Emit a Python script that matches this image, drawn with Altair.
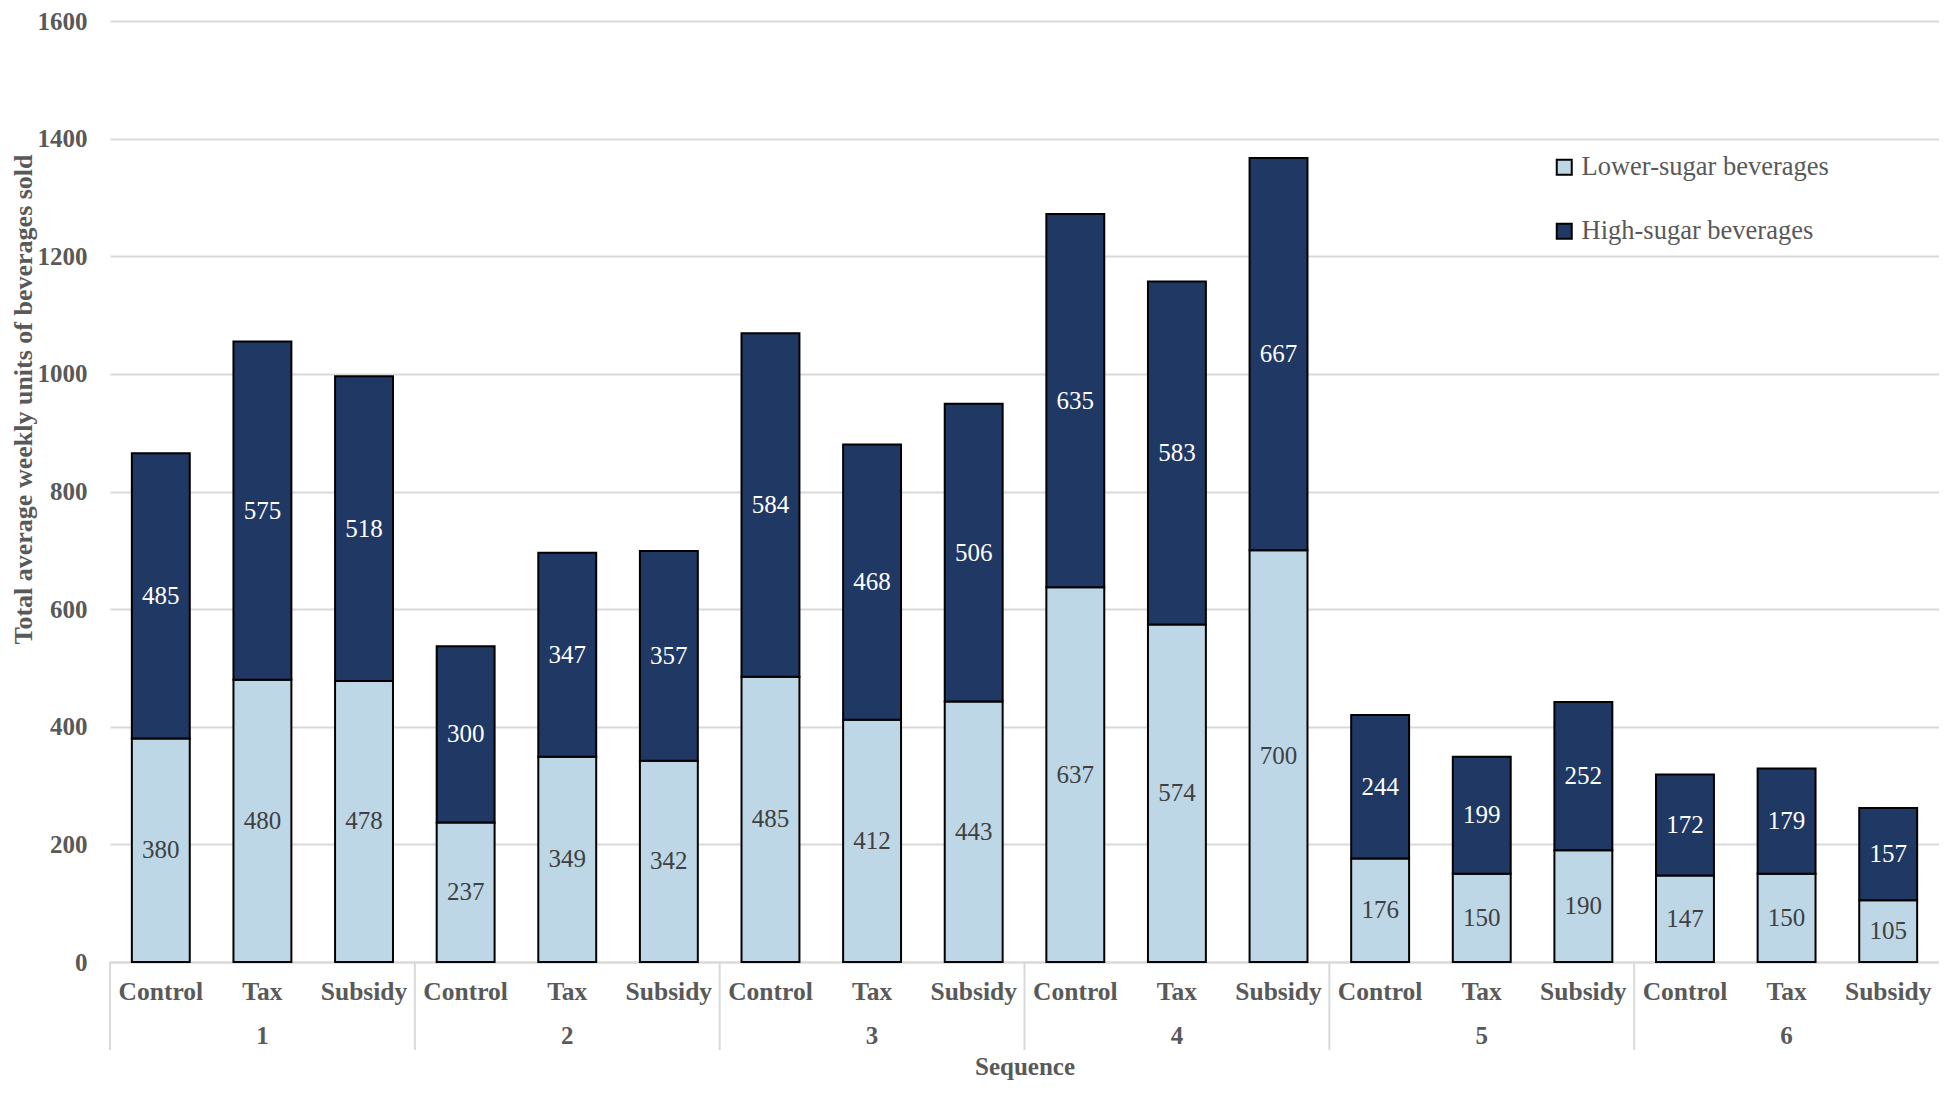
import altair as alt
import pandas as pd

sequences = ["1", "2", "3", "4", "5", "6"]
treatments = ["Control", "Tax", "Subsidy"]
lower_sugar = [380, 480, 478, 237, 349, 342, 485, 412, 443,
               637, 574, 700, 176, 150, 190, 147, 150, 105]
high_sugar = [485, 575, 518, 300, 347, 357, 584, 468, 506,
              635, 583, 667, 244, 199, 252, 172, 179, 157]
series_names = ["Lower-sugar beverages", "High-sugar beverages"]
y_ticks = [0, 200, 400, 600, 800, 1000, 1200, 1400, 1600]

LIGHT = "#BDD7E7"
DARK = "#203864"
GRAY = "#595959"
FONT = "Liberation Serif"

rows = []
keys = []
for si, s in enumerate(sequences):
    for ti, t in enumerate(treatments):
        k = f"{s}|{t}"
        keys.append(k)
        i = si * 3 + ti
        rows.append(dict(key=k, seq=s, treat=t, series=series_names[0], ord=0, value=lower_sugar[i]))
        rows.append(dict(key=k, seq=s, treat=t, series=series_names[1], ord=1, value=high_sugar[i]))
df = pd.DataFrame(rows)

groups = pd.DataFrame({
    "mid": [f"{s}|Tax" for s in sequences],
    "first": [f"{s}|Control" for s in sequences],
    "label": sequences,
})

W, H = 1829, 941
PI, PO = 0.43, 0.215
STEP = W / (len(keys) - PI + 2 * PO)
x_scale = alt.Scale(domain=keys, paddingInner=PI, paddingOuter=PO)
x_axis = alt.Axis(
    title="Sequence", titleFont=FONT, titleFontSize=25, titleFontWeight="bold",
    titleColor=GRAY, titleY=104, titleBaseline="middle",
    labelExpr="split(datum.label, '|')[1]", labelFont=FONT, labelFontSize=25.5,
    labelFontWeight="bold", labelColor=GRAY, labelAngle=0, labelPadding=29,
    labelBaseline="middle", labelOverlap=False,
    ticks=False, tickSize=0, domainColor="#d9d9d9", domainWidth=2, grid=False,
)
y_scale = alt.Scale(domain=[0, 1600])
y_axis = alt.Axis(
    values=y_ticks, format="d", title="Total average weekly units of beverages sold",
    titleFont=FONT, titleFontSize=26, titleFontWeight="bold", titleColor=GRAY,
    titleX=-87, titleY=378, titleBaseline="middle", titleAngle=-90,
    labelFont=FONT, labelFontSize=25, labelFontWeight="bold", labelColor=GRAY,
    labelPadding=23, ticks=False, tickSize=0, domain=False,
    grid=True, gridColor="#d9d9d9", gridWidth=2,
)

base = alt.Chart(df).transform_stack(
    stack="value", groupby=["key"], as_=["y0", "y1"],
    sort=[alt.SortField("ord", order="ascending")],
).transform_calculate(ymid="(datum.y0 + datum.y1) / 2")

bars = base.mark_bar(stroke="black", strokeWidth=2).encode(
    x=alt.X("key:N", scale=x_scale, axis=x_axis),
    y=alt.Y("y0:Q", scale=y_scale, axis=y_axis),
    y2="y1:Q",
    color=alt.Color(
        "series:N",
        scale=alt.Scale(domain=series_names, range=[LIGHT, DARK]),
        legend=alt.Legend(
            title=None, orient="none", legendX=1441, legendY=133, padding=0,
            symbolType="square", symbolSize=225, symbolStrokeColor="black",
            symbolStrokeWidth=2, labelFont=FONT, labelFontSize=26.5, labelColor=GRAY,
            labelOffset=4, rowPadding=37, labelLimit=0,
        ),
    ),
)

labels = base.mark_text(font=FONT, fontSize=25, baseline="middle").encode(
    x=alt.X("key:N", scale=x_scale, axis=x_axis),
    y=alt.Y("ymid:Q", scale=y_scale, axis=y_axis),
    text=alt.Text("value:Q"),
    color=alt.condition(alt.datum.series == series_names[1], alt.value("white"), alt.value("#404040")),
)

group_text = alt.Chart(groups).mark_text(
    font=FONT, fontSize=25, fontWeight="bold", color=GRAY, baseline="middle"
).encode(
    x=alt.X("mid:N", scale=x_scale, axis=x_axis),
    y=alt.value(H + 74),
    text="label:N",
)

separators = alt.Chart(groups).mark_rule(color="#d9d9d9", strokeWidth=2).encode(
    x=alt.X("first:N", scale=x_scale, axis=x_axis, bandPosition=0),
    xOffset=alt.value(-PI * STEP / 2),
    y=alt.value(H),
    y2=alt.value(H + 88),
)

chart = alt.layer(separators, bars, labels, group_text).properties(
    width=W, height=H,
    autosize=alt.AutoSizeParams(type="none"),
    padding={"left": 102, "top": 13, "right": 0, "bottom": 119},
).configure_view(strokeWidth=0)

chart.save("out.html", embed_options={"renderer": "svg", "actions": False})
